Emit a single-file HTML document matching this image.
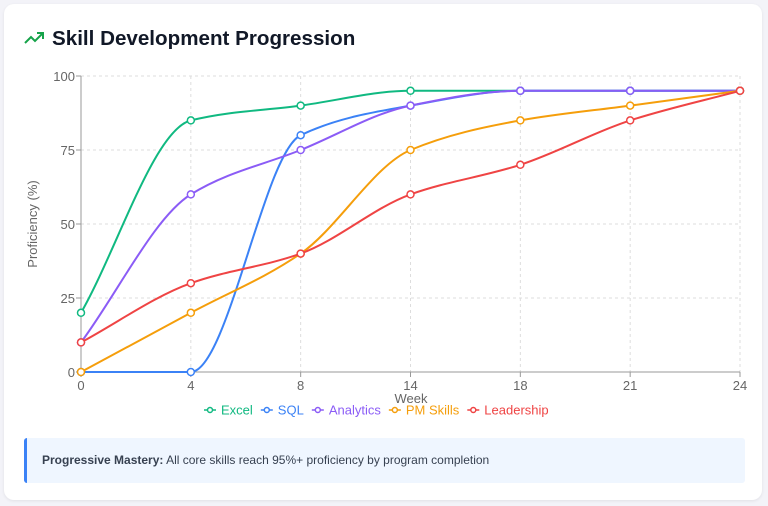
<!DOCTYPE html>
<html><head><meta charset="utf-8"><style>
body{margin:0;width:768px;height:506px;background:#f3f3f8;font-family:"Liberation Sans",sans-serif;overflow:hidden}
.card{position:absolute;left:4px;top:4px;width:758px;height:496px;background:#fff;border-radius:10px;box-shadow:0 1px 3px rgba(0,0,0,.08)}
.title{position:absolute;left:52px;top:27px;font-size:20.6px;font-weight:bold;color:#111827}
.info{position:absolute;left:24px;top:438px;height:45px;background:#eff6ff;border-left:3px solid #3b82f6;border-radius:3px;font-size:12px;color:#374151;line-height:45px;padding-left:15px;box-sizing:border-box;width:721px}
</style></head><body>
<div class="card"></div>
<svg style="position:absolute;left:24px;top:30px" width="22" height="16"><polyline points="1,13 7,7 11,11 19,3" fill="none" stroke="#16a34a" stroke-width="2"/><polyline points="13,3 19,3 19,9" fill="none" stroke="#16a34a" stroke-width="2"/></svg>
<div class="title">Skill Development Progression</div>
<svg id="c" style="position:absolute;left:0;top:0" width="768" height="430"></svg>
<div class="info"><b>Progressive Mastery:</b> All core skills reach 95%+ proficiency by program completion</div>
<script>
const categories=["0","4","8","14","18","21","24"];
const yTicks=[0,25,50,75,100];
const excel=[20,85,90,95,95,95,95];
const sql=[0,0,80,90,95,95,95];
const analytics=[10,60,75,90,95,95,95];
const pm=[0,20,40,75,85,90,95];
const leadership=[10,30,40,60,70,85,95];
const seriesNames=["Excel","SQL","Analytics","PM Skills","Leadership"];
const colors=["#10b981","#3b82f6","#8b5cf6","#f59e0b","#ef4444"];
const seriesData=[excel,sql,analytics,pm,leadership];
const svg=document.getElementById('c');const NS="http://www.w3.org/2000/svg";
const x0=81,x1=740,y0=372,y1=76;
const xs=i=>x0+(x1-x0)*i/(categories.length-1);
const ys=v=>y0-(y0-y1)*v/100;
function mk(t,a,p){const e=document.createElementNS(NS,t);for(const k in a)e.setAttribute(k,a[k]);(p||svg).appendChild(e);return e;}
yTicks.forEach(v=>{const g=mk('line',{x1:x0,x2:x1,y1:ys(v),y2:ys(v),stroke:'#ddd','stroke-dasharray':'3,3'});
const t=mk('text',{x:x0-6,y:ys(v)+5,'text-anchor':'end','font-size':13,fill:'#666'});t.textContent=v;
mk('line',{x1:x0-5,x2:x0,y1:ys(v),y2:ys(v),stroke:'#999'});});
categories.forEach((c,i)=>{const g=mk('line',{x1:xs(i),x2:xs(i),y1:y1,y2:y0,stroke:'#ddd','stroke-dasharray':'3,3'});
mk('line',{x1:xs(i),x2:xs(i),y1:y0,y2:y0+5,stroke:'#999'});
const t=mk('text',{x:xs(i),y:y0+18,'text-anchor':'middle','font-size':13,fill:'#666'});t.textContent=c;});
mk('line',{x1:x0,x2:x0,y1:y1,y2:y0,stroke:'#999'});mk('line',{x1:x0,x2:x1,y1:y0,y2:y0,stroke:'#999'});
let t=mk('text',{x:411,y:403,'text-anchor':'middle','font-size':13,fill:'#666'});t.textContent='Week';
t=mk('text',{x:37,y:224,'text-anchor':'middle','font-size':13,fill:'#666',transform:'rotate(-90 37 224)'});t.textContent='Proficiency (%)';
function mono(p){const n=p.length,d=[],m=[];for(let i=0;i<n-1;i++)d.push((p[i+1][1]-p[i][1])/(p[i+1][0]-p[i][0]));
m[0]=d[0];m[n-1]=d[n-2];for(let i=1;i<n-1;i++){if(d[i-1]*d[i]<=0)m[i]=0;else{const h0=p[i][0]-p[i-1][0],h1=p[i+1][0]-p[i][0];m[i]=3*(h0+h1)/((2*h1+h0)/d[i-1]+(h1+2*h0)/d[i]);}}
for(let i=0;i<n-1;i++){if(d[i]===0){m[i]=0;m[i+1]=0;}}
let s=`M${p[0][0]},${p[0][1]}`;for(let i=0;i<n-1;i++){const h=(p[i+1][0]-p[i][0])/3;s+=`C${p[i][0]+h},${p[i][1]+m[i]*h} ${p[i+1][0]-h},${p[i+1][1]-m[i+1]*h} ${p[i+1][0]},${p[i+1][1]}`;}return s;}
seriesData.forEach((arr,k)=>{const pts=arr.map((v,i)=>[xs(i),ys(v)]);
const l=mk('path',{d:mono(pts),fill:'none',stroke:colors[k],'stroke-width':2});
pts.forEach(p=>{const c=mk('circle',{cx:p[0],cy:p[1],r:3.5,fill:'#fff',stroke:colors[k],'stroke-width':1.5});});});
let lx=208;seriesNames.forEach((n,k)=>{const g=mk('g',{});
mk('line',{x1:lx-4,x2:lx+8,y1:410,y2:410,stroke:colors[k],'stroke-width':1.5},g);mk('circle',{cx:lx+2,cy:410,r:2.5,fill:'#fff',stroke:colors[k],'stroke-width':1.5},g);
const tt=mk('text',{x:lx+13,y:414.5,'font-size':13,fill:colors[k]},g);tt.textContent=n;lx+=13+tt.getComputedTextLength()+12;});
</script>
</body></html>
